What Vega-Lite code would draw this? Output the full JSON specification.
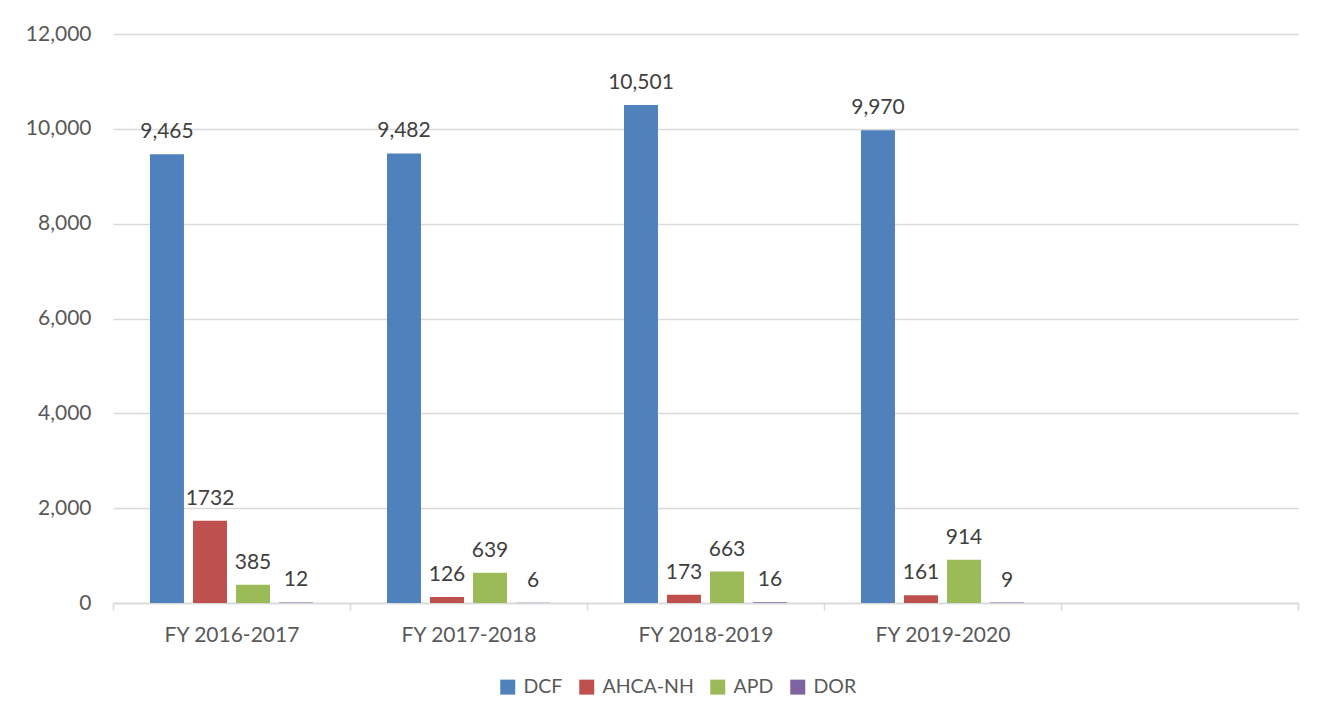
{
  "$schema": "https://vega.github.io/schema/vega-lite/v6.json",
  "width": 1185,
  "height": 569,
  "autosize": {"type": "none"},
  "padding": {"left": 113, "top": 34, "right": 30, "bottom": 120},
  "background": "white",
  "config": {
    "font": "Lato",
    "view": {"stroke": null}
  },
  "data": {
    "values": [
      {"year": "FY 2016-2017", "agency": "DCF", "value": 9465, "label": "9,465"},
      {"year": "FY 2016-2017", "agency": "AHCA-NH", "value": 1732, "label": "1732"},
      {"year": "FY 2016-2017", "agency": "APD", "value": 385, "label": "385"},
      {"year": "FY 2016-2017", "agency": "DOR", "value": 12, "label": "12"},
      {"year": "FY 2017-2018", "agency": "DCF", "value": 9482, "label": "9,482"},
      {"year": "FY 2017-2018", "agency": "AHCA-NH", "value": 126, "label": "126"},
      {"year": "FY 2017-2018", "agency": "APD", "value": 639, "label": "639"},
      {"year": "FY 2017-2018", "agency": "DOR", "value": 6, "label": "6"},
      {"year": "FY 2018-2019", "agency": "DCF", "value": 10501, "label": "10,501"},
      {"year": "FY 2018-2019", "agency": "AHCA-NH", "value": 173, "label": "173"},
      {"year": "FY 2018-2019", "agency": "APD", "value": 663, "label": "663"},
      {"year": "FY 2018-2019", "agency": "DOR", "value": 16, "label": "16"},
      {"year": "FY 2019-2020", "agency": "DCF", "value": 9970, "label": "9,970"},
      {"year": "FY 2019-2020", "agency": "AHCA-NH", "value": 161, "label": "161"},
      {"year": "FY 2019-2020", "agency": "APD", "value": 914, "label": "914"},
      {"year": "FY 2019-2020", "agency": "DOR", "value": 9, "label": "9"}
    ]
  },
  "encoding": {
    "x": {
      "field": "year",
      "type": "nominal",
      "scale": {
        "domain": ["FY 2016-2017", "FY 2017-2018", "FY 2018-2019", "FY 2019-2020", "blank"],
        "paddingInner": 0,
        "paddingOuter": 0
      },
      "axis": {
        "title": null,
        "labelAngle": 0,
        "labelExpr": "datum.value == 'blank' ? '' : datum.label",
        "tickBand": "extent",
        "domainColor": "#d9d9d9",
        "domainWidth": 1.5,
        "tickColor": "#d9d9d9",
        "tickWidth": 1.5,
        "tickSize": 7,
        "labelPadding": 14,
        "labelFontSize": 21,
        "labelColor": "#595959",
        "labelFont": "Lato"
      }
    },
    "xOffset": {
      "field": "agency",
      "type": "nominal",
      "scale": {
        "domain": ["DCF", "AHCA-NH", "APD", "DOR"],
        "paddingInner": 0.21,
        "paddingOuter": 0.86
      }
    },
    "y": {
      "field": "value",
      "type": "quantitative",
      "scale": {"domain": [0, 12000], "nice": false},
      "axis": {
        "title": null,
        "values": [0, 2000, 4000, 6000, 8000, 10000, 12000],
        "format": ",.0f",
        "domain": false,
        "ticks": false,
        "labelPadding": 22,
        "labelFontSize": 21,
        "labelColor": "#595959",
        "gridColor": "#d9d9d9",
        "gridWidth": 1.5
      }
    }
  },
  "layer": [
    {
      "mark": {"type": "bar"},
      "encoding": {
        "color": {
          "field": "agency",
          "type": "nominal",
          "scale": {
            "domain": ["DCF", "AHCA-NH", "APD", "DOR"],
            "range": ["#4f81bd", "#c0504d", "#9bbb59", "#8064a2"]
          },
          "legend": {
            "title": null,
            "orient": "none",
            "legendX": 385,
            "legendY": 643,
            "direction": "horizontal",
            "symbolType": "square",
            "symbolSize": 225,
            "symbolStrokeWidth": 0,
            "labelFontSize": 19.5,
            "labelColor": "#595959",
            "columnPadding": 14,
            "labelOffset": 6
          }
        }
      }
    },
    {
      "mark": {
        "type": "text",
        "baseline": "alphabetic",
        "dy": -16,
        "fontSize": 21,
        "color": "#404040"
      },
      "encoding": {
        "text": {"field": "label"}
      }
    }
  ]
}
